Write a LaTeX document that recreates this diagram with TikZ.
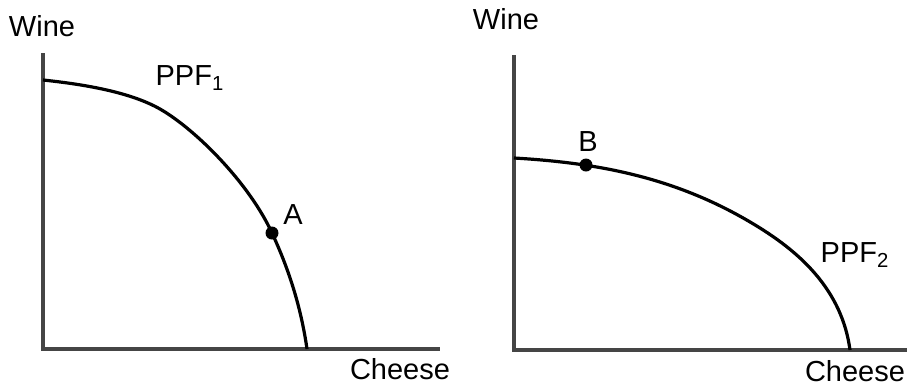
\documentclass[tikz,border=0pt]{standalone}
\usepackage{fontspec}
\setmainfont{Liberation Sans}
\usepackage{tikz}
\usetikzlibrary{positioning}
\definecolor{axisgray}{HTML}{454545}

\begin{document}
\begin{tikzpicture}[x=0.5pt, y=-0.5pt,
    axis/.style={line width=1.6pt, axisgray, line cap=rect},
    ppf/.style={line width=1.6pt, black},
    pt/.style={circle, fill=black, inner sep=0pt, minimum size=6.5pt},
    lbl/.style={font=\fontsize{14.5}{17}\selectfont, inner sep=0pt}]
    \useasboundingbox (0,0) rectangle (907,387);
    % First economy
    \begin{scope}
        \coordinate (o1) at (43,349);
        \coordinate (y1) at (43,55);
        \coordinate (x1) at (438,349);
        \draw[axis] (y1) -- (o1) -- (x1);
        \node[pt] (dotA) at (272,233) {};
        \draw[ppf] (43,80) .. controls (100,86) and (140,96) .. (165,112)
            .. controls (200,134) and (250,185) .. (dotA.center)
            .. controls (285,261) and (300,300) .. (307,349);
        \node[lbl] (wine1) at (42,26) {Wine};
        \node[lbl] (ppf1) at (190,78) {PPF\textsubscript{1}};
        \node[lbl] (labA) at (293,215) {A};
        \node[lbl] (cheese1) at (400,369) {Cheese};
    \end{scope}
    % Second economy
    \begin{scope}
        \coordinate (o2) at (514,350);
        \coordinate (y2) at (514,57);
        \coordinate (x2) at (906,350);
        \draw[axis] (y2) -- (o2) -- (x2);
        \draw[ppf] (514,158) .. controls (600,163) and (680,178) .. (760,228)
            .. controls (800,253) and (842,290) .. (850,350);
        \node[pt] (dotB) at (586,165) {};
        \node[lbl] (wine2) at (506,19) {Wine};
        \node[lbl] (ppf2) at (855,255) {PPF\textsubscript{2}};
        \node[lbl] (labB) at (588,142) {B};
        \node[lbl] (cheese2) at (855,371) {Cheese};
    \end{scope}
\end{tikzpicture}
\end{document}
